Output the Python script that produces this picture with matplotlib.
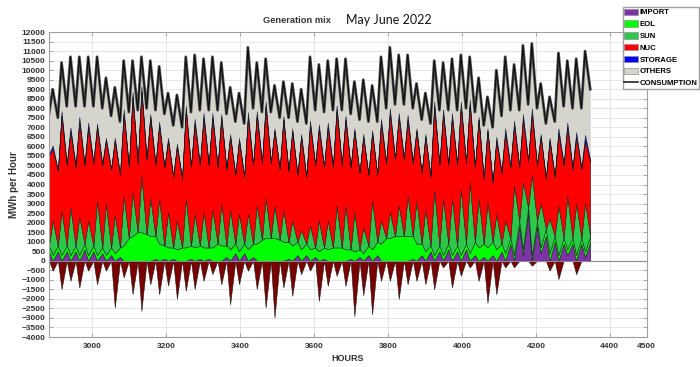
"""
Generation mix, May-June 2022: hourly stacked generation vs consumption.
Values read off the original figure, two samples per day
(night low around 03h, daytime peak around 13h).
"""
import numpy as np
import matplotlib
matplotlib.use("Agg")
import matplotlib.pyplot as plt
from matplotlib.patches import Patch
from matplotlib.lines import Line2D

plt.rcParams['font.family'] = ['Liberation Sans', 'DejaVu Sans']

START_HOUR = 2880   # 1 May 2022 00:00 (hour of year)
NIGHT_H = 3
DAY_H = 13

# --- consumption (MWh per hour) ---
cons_day = [9000, 10400, 10700, 10700, 10700, 10700, 9600, 9100,
            10500, 10500, 10700, 10500, 10200, 8800, 8700,
            10700, 10800, 10600, 10700, 10400, 9100, 8800,
            11200, 10400, 10600, 9200, 9400, 9300, 9000,
            10700, 10300, 10500, 10600, 10600, 9400, 9500, 9200,
            10700, 11200, 10800, 10800, 9300, 8800,
            10500, 10400, 10600, 10800, 10700, 9600, 8600,
            10000, 10700, 10300, 11300, 11400, 9300, 8600,
            10900, 10500, 10600, 11000]
cons_night = [7700, 7500, 8100, 8100, 8100, 8100, 8000, 7600, 7300, 7800,
              7900, 8000, 7900, 7700, 7100,
              7000, 7800, 7900, 7900, 7900, 7700, 7300,
              7200, 8000, 7800, 7800, 7500, 7500, 7300,
              7200, 7900, 7800, 7900, 7900, 7700, 7400, 7300,
              7300, 8000, 8200, 8200, 8000, 7400,
              7200, 7900, 7900, 7900, 8000, 7800, 7100,
              7000, 7600, 7900, 7900, 8200, 8000, 7200,
              7300, 8100, 8000, 8000, 9000]

# --- import (negative = export) ---
import_day = [-520, -1480, -1050, -1400, -520, -1230, -520, -2450, -870, -1750,
              -2630, -1230, -1750, -1300, -2000,
              -1570, -1480, -1050, -700, -1230, -2280, -1230,
              -520, -1480, -2450, -2980, -1400, -1840, -700,
              -520, -2100, -1320, -790, -1320, -2900, -1800, -2800,
              -1050, -1050, -2000, -1230, -1050, -1230,
              -1490, -350, -1400, -790, -350, -1050, -2200,
              -1750, -350, -350, 300, -260, 400, -520,
              -960, 300, -700, 200]
import_night = [500, 500, 500, 500, 600, 500, 400, 300, 200, 0,
                0, 0, 100, 100, 100,
                0, 100, 100, 100, 0, 200, 400,
                400, 200, 0, 0, 0, 100, 300,
                300, 200, 100, 0, 0, 100, 200, 300,
                300, 0, 0, 0, 100, 300,
                500, 500, 600, 500, 600, 300, 200,
                300, 500, 900, 1800, 2500, 1800, 1300,
                1000, 900, 900, 900, 1000]

# --- wind ---
eol_day = [300, 300, 300, 300, 300, 300, 300, 400, 800, 1300,
           1500, 1300, 900, 700, 600,
           700, 700, 700, 700, 800, 600, 500,
           600, 900, 1200, 1200, 1000, 800, 600,
           600, 500, 600, 700, 600, 500, 400, 600,
           900, 1200, 1300, 1300, 900, 500,
           300, 300, 300, 300, 400, 700, 700,
           600, 400, 300, 300, 300, 300, 400,
           300, 300, 300, 300]
eol_night = [300, 300, 300, 300, 300, 300, 300, 400, 500, 1200,
             1500, 1400, 1200, 700, 600,
             700, 700, 700, 600, 900, 600, 500,
             500, 700, 1100, 1200, 1100, 900, 700,
             600, 500, 600, 700, 700, 500, 400, 500,
             700, 1200, 1300, 1300, 1200, 600,
             300, 300, 300, 300, 300, 700, 700,
             700, 400, 300, 300, 300, 300, 400,
             300, 300, 300, 300, 300]

# --- solar (zero at night) ---
sun_day = [1800, 2300, 2500, 2000, 1800, 2850, 2700, 2000, 2600, 2300,
           2950, 2000, 2350, 1850, 1500,
           2550, 1750, 1850, 2000, 2200, 2050, 1950,
           1850, 2000, 2100, 1700, 1650, 1300, 1000,
           1250, 1600, 1500, 2200, 2300, 2050, 1350, 2550,
           1200, 1350, 1600, 2100, 2250, 2200,
           3400, 2950, 2950, 3450, 3700, 2550, 2350,
           1850, 1700, 3650, 3500, 4200, 2300, 1800,
           2600, 2800, 2700, 2550]
sun_night = np.zeros(len(cons_night))

# --- nuclear ---
nuc_day = [3800, 5000, 4000, 5000, 4900, 3850, 3300, 3900, 4300, 5000,
           4450, 4200, 3850, 3750, 3900,
           4650, 4750, 4950, 4800, 4500, 3850, 3850,
           5050, 4700, 4800, 3900, 4750, 4700, 4900,
           5250, 4800, 4900, 5000, 4500, 4250, 4750, 3550,
           5100, 5150, 4600, 4000, 3650, 3800,
           4400, 4450, 4250, 4350, 4100, 4150, 3750,
           3850, 4600, 3150, 3300, 3200, 3500, 4100,
           3800, 3600, 3500, 3250]
nuc_night = [4700, 3900, 4200, 4100, 4100, 4300, 4300, 4100, 3800, 3700,
             3600, 3900, 3700, 4100, 3700,
             3600, 4100, 4200, 4300, 4000, 4000, 3600,
             3500, 4100, 4000, 3900, 3700, 3700, 3500,
             3500, 4300, 4200, 4200, 4300, 4300, 4000, 3700,
             3500, 3900, 4000, 4000, 3800, 3700,
             3600, 4200, 4100, 4200, 4200, 3900, 3400,
             3100, 3700, 3700, 2800, 2400, 2900, 2600,
             3100, 3800, 3600, 3600, 3900]

# --- storage ---
storage_day = [150, 250, 200, 250, 250, 200, 150, 150, 250, 250,
               250, 200, 200, 150, 150,
               250, 250, 250, 250, 200, 150, 150,
               300, 250, 250, 150, 200, 150, 150,
               250, 250, 250, 250, 200, 150, 150, 150,
               250, 300, 250, 250, 150, 150,
               250, 250, 250, 250, 250, 150, 150,
               200, 250, 250, 300, 300, 150, 150,
               250, 250, 250, 300]
storage_night = [100, 50, 100, 100, 100, 100, 100, 50, 50, 100,
                 100, 100, 100, 50, 50,
                 50, 100, 100, 100, 100, 50, 50,
                 50, 100, 100, 100, 50, 50, 50,
                 50, 100, 100, 100, 100, 50, 50, 50,
                 50, 100, 100, 100, 100, 50,
                 50, 100, 100, 100, 100, 50, 50,
                 50, 100, 100, 100, 100, 50, 50,
                 50, 100, 100, 100, 100]

labels = ['IMPORT', 'EOL', 'SUN', 'NUC', 'STORAGE', 'OTHERS', 'CONSUMPTION']
colors = ['#7d32a6', '#00ff00', '#2cc84a', '#ff0000', '#0000ff', '#d5d5cd']
export_color = '#7a0000'


def interleave(night, day):
    out = np.empty(len(night) + len(day))
    out[0::2] = night
    out[1::2] = day
    return out


night_x = START_HOUR + 24 * np.arange(len(cons_night)) + NIGHT_H
day_x = START_HOUR + 24 * np.arange(len(cons_day)) + DAY_H
hours = interleave(night_x, day_x)

cons = interleave(cons_night, cons_day)
imp = interleave(import_night, import_day)
eol = interleave(eol_night, eol_day)
sun = interleave(sun_night, sun_day)
nuc = interleave(nuc_night, nuc_day)
sto = interleave(storage_night, storage_day)

imp_pos = np.clip(imp, 0, None)
imp_neg = np.clip(imp, None, 0)
stack_top = imp_pos + eol + sun + nuc + sto

fig = plt.figure(figsize=(7, 3.67), dpi=100)
ax = fig.add_axes([0.07, 0.0817, 0.854, 0.831])

ax.grid(True, color='#e2e2e2', lw=0.6)
ax.set_axisbelow(True)

ax.fill_between(hours, stack_top, cons, color=colors[5], lw=0)
ax.stackplot(hours, imp_pos, eol, sun, nuc, sto, colors=colors[:5],
             edgecolor='#1a1a1a', linewidth=0.35)
ax.fill_between(hours, imp_neg, 0, facecolor=export_color,
                edgecolor='#1a1a1a', linewidth=0.4)
ax.axhline(0, color='#8a8a8a', lw=0.8)
ax.plot(hours, cons, color='#555555', lw=2.0)
ax.plot(hours, cons, color='#111111', lw=0.9)

ax.set_xlim(hours[0], 4500)
ax.set_ylim(-4000, 12000)
ax.set_xticks([3000, 3200, 3400, 3600, 3800, 4000, 4200, 4400, 4500])
ax.set_yticks(np.arange(-4000, 12001, 500))

ax.tick_params(direction='in', length=3, width=0.6, color='#9a9a9a',
               labelcolor='#333333', labelsize=6, top=True, right=True)
ax.tick_params(axis='y', pad=2.5)
ax.tick_params(axis='x', pad=4)
for lbl in ax.get_xticklabels() + ax.get_yticklabels():
    lbl.set_fontweight('bold')
for sp in ax.spines.values():
    sp.set_color('#a0a0a0')
    sp.set_linewidth(0.8)

ax.set_xlabel('HOURS', fontsize=6.5, fontweight='bold', color='#333333', labelpad=3)
ax.set_ylabel('MWh per Hour', fontsize=7, fontweight='bold', color='#333333', labelpad=2)

fig.text(0.424, 0.945, 'Generation mix', fontsize=6.7, fontweight='bold',
         color='#333333', ha='center', va='center')
fig.text(0.494, 0.945, 'May June 2022', fontsize=9, family=['Lato', 'DejaVu Sans'],
         color='#111111', ha='left', va='center')

handles = [Patch(facecolor=c, edgecolor='#909090', lw=0.5) for c in colors]
handles.append(Line2D([0], [0], color='#222222', lw=1.2))
fig.legend(handles, labels, loc='upper right', bbox_to_anchor=(0.999, 0.981),
           bbox_transform=fig.transFigure, prop={'size': 5.6, 'weight': 'bold'},
           handlelength=1.8, handleheight=0.9, handletextpad=0.2,
           labelspacing=0.5, borderpad=0.2, borderaxespad=0,
           frameon=True, fancybox=False, edgecolor='#a0a0a0', framealpha=1)

fig.savefig('out.png', dpi=100)
